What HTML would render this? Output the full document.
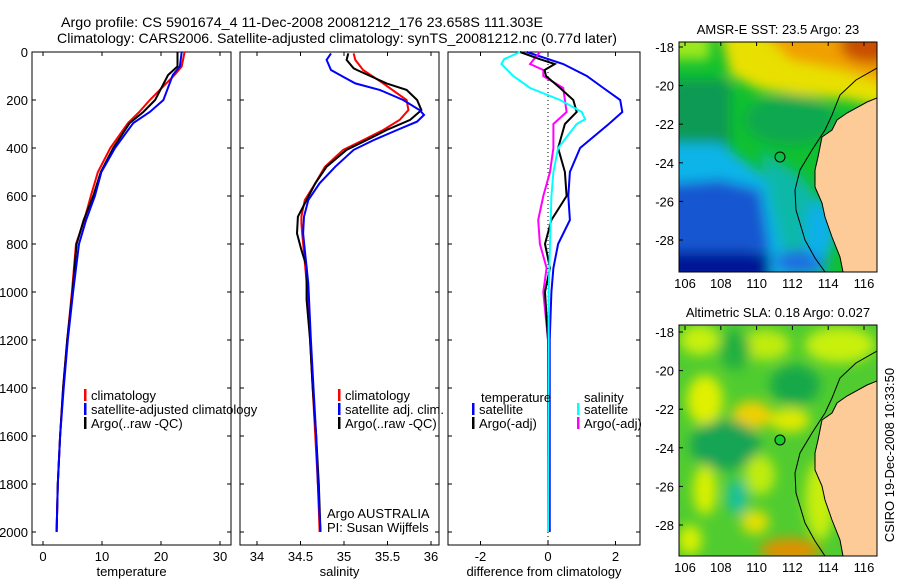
<!DOCTYPE html>
<html><head><meta charset="utf-8">
<style>
html,body{margin:0;padding:0;background:#fff;}
svg{display:block;font-family:"Liberation Sans",sans-serif;}
text{font-size:13px;fill:#000;}
</style></head>
<body>
<svg id="fig" width="900" height="580" viewBox="0 0 900 580" xmlns="http://www.w3.org/2000/svg">
<defs>
<filter id="bl" x="-50%" y="-50%" width="200%" height="200%"><feGaussianBlur stdDeviation="6"/></filter>
<clipPath id="c1"><rect x="679" y="42" width="198" height="230"/></clipPath>
<clipPath id="c2"><rect x="679" y="325" width="198" height="231"/></clipPath>
</defs>
<text x="61" y="27" textLength="482" lengthAdjust="spacingAndGlyphs" style="font-size:14px">Argo profile: CS 5901674_4 11-Dec-2008 20081212_176 23.658S 111.303E</text>
<text x="57" y="43" textLength="560" lengthAdjust="spacingAndGlyphs" style="font-size:14px">Climatology: CARS2006. Satellite-adjusted climatology: synTS_20081212.nc (0.77d later)</text>
<g id="plots"></g>

<!-- SST map -->
<g>
<text x="778" y="34" text-anchor="middle">AMSR-E SST: 23.5 Argo: 23</text>
<g clip-path="url(#c1)">
<rect x="679" y="42" width="198" height="230" fill="#10c030"/>
<g filter="url(#bl)">
<rect x="660" y="30" width="50" height="30" fill="#9be81e"/>
<rect x="670" y="80" width="60" height="70" fill="#109a55"/>
<ellipse cx="790" cy="120" rx="45" ry="25" fill="#0fa850"/>
<polygon points="720,30 890,30 890,110 850,100 800,95 760,90 730,75" fill="#e8e000"/>
<polygon points="760,30 890,30 890,85 840,70 790,60" fill="#f0a000"/>
<ellipse cx="870" cy="45" rx="30" ry="18" fill="#c85000"/>
<polygon points="660,143 720,143 750,165 775,185 790,210 800,280 660,280" fill="#10b4e8"/>
<polygon points="760,150 800,175 820,200 830,280 790,280 770,200" fill="#10b8a8"/>
<polygon points="660,185 720,180 760,190 770,250 660,260" fill="#1456d0"/>
<rect x="660" y="252" width="110" height="30" fill="#041896"/>
<ellipse cx="800" cy="262" rx="25" ry="12" fill="#1e6fe0"/>
<ellipse cx="820" cy="230" rx="15" ry="30" fill="#10b0e8"/>
</g>
<polygon points="877,98 867,102 847,113 837,120 832,130 822,137 818,157 815,170 815,187 822,203 825,217 832,237 840,257 843,272 877,272" fill="#fccb98" stroke="#000" stroke-width="1"/>
<polyline points="877,68 856,80 840,95 832,115 825,130 812,150 800,170 795,190 796,210 805,240 815,258 825,272" fill="none" stroke="#000" stroke-width="1"/>
<circle cx="780" cy="157" r="5" fill="none" stroke="#000" stroke-width="1"/>
</g>
<rect x="679" y="42" width="198" height="230" fill="none" stroke="#000"/>
</g>

<!-- SLA map -->
<g>
<text x="778" y="317" text-anchor="middle">Altimetric SLA: 0.18 Argo: 0.027</text>
<g clip-path="url(#c2)">
<rect x="679" y="325" width="198" height="231" fill="#50cc30"/>
<g filter="url(#bl)">
<ellipse cx="700" cy="340" rx="20" ry="15" fill="#c8f010"/>
<ellipse cx="705" cy="400" rx="18" ry="25" fill="#e0f000"/>
<ellipse cx="752" cy="415" rx="20" ry="14" fill="#f0d000"/>
<ellipse cx="790" cy="420" rx="20" ry="12" fill="#e0ea00"/>
<ellipse cx="765" cy="345" rx="25" ry="15" fill="#c0ec10"/>
<ellipse cx="840" cy="345" rx="35" ry="18" fill="#c8f010"/>
<ellipse cx="795" cy="385" rx="25" ry="20" fill="#18a848"/>
<ellipse cx="735" cy="350" rx="15" ry="20" fill="#20b040"/>
<ellipse cx="725" cy="445" rx="35" ry="25" fill="#19a455"/>
<ellipse cx="737" cy="497" rx="10" ry="18" fill="#14c0a0"/>
<ellipse cx="705" cy="490" rx="12" ry="25" fill="#d8f000"/>
<ellipse cx="760" cy="475" rx="15" ry="20" fill="#c0ec10"/>
<ellipse cx="790" cy="550" rx="30" ry="12" fill="#e09000"/>
<ellipse cx="755" cy="522" rx="14" ry="12" fill="#e6e000"/>
<ellipse cx="820" cy="500" rx="15" ry="40" fill="#c8ee10"/>
<ellipse cx="690" cy="540" rx="12" ry="15" fill="#d8f000"/>
</g>
<polygon points="877,381 867,385 847,396 837,403 832,413 822,420 818,440 815,453 815,470 822,486 825,500 832,520 840,540 843,556 877,556" fill="#fccb98" stroke="#000" stroke-width="1"/>
<polyline points="877,351 856,363 840,378 832,398 825,413 812,433 800,453 795,473 796,493 805,523 815,541 825,556" fill="none" stroke="#000" stroke-width="1"/>
<circle cx="780" cy="440" r="5" fill="#1ccc2c" stroke="#000" stroke-width="1"/>
</g>
<rect x="679" y="325" width="198" height="231" fill="none" stroke="#000"/>
</g>
<text transform="translate(894,455) rotate(-90)" text-anchor="middle">CSIRO 19-Dec-2008 10:33:50</text>
</svg>
<script>
// ---- data ----
const tDepth = [0,60,96,200,250,296,400,500,600,700,800,1000,1200,1400,1600,1800,2000];
const tempClim = [24.0,23.5,22.3,18.1,16.3,14.4,11.4,9.3,8.1,7.0,5.6,4.9,4.1,3.4,2.9,2.5,2.3];
const tempSat  = [23.5,23.2,22.0,20.4,18.1,15.3,12.2,9.9,8.8,7.3,6.1,5.1,4.2,3.5,2.9,2.5,2.3];
const tempArgo = [22.8,22.8,21.2,19.0,17.0,14.7,11.9,9.8,8.5,6.9,5.7,5.0,4.1,3.4,2.9,2.5,2.3];
const sDepthR = [6,33,75,131,200,242,283,325,367,408,478,547,617,686,714,756,1000,1200,1400,1600,1800,2000];
const salClim = [35.11,35.13,35.22,35.45,35.72,35.74,35.64,35.45,35.22,34.99,34.78,34.67,34.55,34.51,34.51,34.52,34.58,34.61,34.64,34.67,34.70,34.72];
const sDepthB = [6,33,75,103,131,158,200,242,262,290,325,367,408,478,547,617,686,756,825,964,1200,1400,1600,1800,2000];
const salSat = [34.85,34.80,34.85,34.99,35.13,35.41,35.68,35.87,35.92,35.84,35.61,35.34,35.11,34.90,34.72,34.59,34.54,34.53,34.55,34.59,34.62,34.65,34.68,34.70,34.73];
const sDepthK = [6,33,68,75,131,158,200,242,283,325,367,408,478,547,617,686,756,825,894,1033,1200,1400,1600,1800,2000];
const salArgo = [35.05,35.03,35.11,35.15,35.49,35.72,35.84,35.89,35.76,35.49,35.26,35.03,34.80,34.67,34.57,34.47,34.46,34.51,34.57,34.57,34.61,34.64,34.68,34.71,34.73];
const dDepthB = [0,50,100,150,200,250,300,400,500,600,700,800,900,1000,1200,2000];
const diffTSat = [-0.63,0.45,1.15,1.64,2.14,2.2,1.8,0.95,0.65,0.6,0.65,0.3,0.16,0.1,0.05,0.05];
const dDepthK = [0,30,50,75,100,150,200,250,300,400,500,600,700,800,900,1000,1200,2000];
const diffTArgo = [-0.83,-0.24,0.2,-0.1,-0.06,0.36,0.75,0.85,0.5,0.3,0.5,0.55,0.1,-0.09,0.06,-0.09,0.0,0.0];
const dDepthC = [0,30,50,100,150,200,250,280,300,400,500,600,800,1000,2000];
const diffSSat = [-0.83,-1.3,-1.38,-1.03,-0.53,0.36,1.0,1.1,0.85,0.3,0.16,0.1,0.06,0.02,0];
const dDepthM = [0,50,75,100,150,200,250,300,400,500,600,700,800,900,1000,1200,2000];
const diffSArgo = [-0.24,-0.53,-0.14,-0.14,0.45,0.5,0.55,0.16,0.16,0.06,-0.14,-0.29,-0.24,-0.04,-0.14,0,0];
const depthTicks = [0,200,400,600,800,1000,1200,1400,1600,1800,2000];
const tempTicks = [0,10,20,30];
const salTicks = [34,34.5,35,35.5,36];
const salTickLabels = ['34','34.5','35','35.5','36'];
const diffTicks = [-2,0,2];
const lonTicks = [106,108,110,112,114,116];
const latTicks = [-18,-20,-22,-24,-26,-28];

const NS='http://www.w3.org/2000/svg';
const root=document.getElementById('plots');
function mk(tag,attrs,parent){const e=document.createElementNS(NS,tag);for(const k in attrs)e.setAttribute(k,attrs[k]);(parent||root).appendChild(e);return e;}
const TOP=52,BOT=545;
const yD=d=>52+d*0.24;

function panel(name,x0,x1,xs,ticks,labels,xlabel,showY){
  const g=mk('g',{});
  
  
  mk('rect',{x:x0,y:TOP,width:x1-x0,height:BOT-TOP,fill:'none',stroke:'#000'},g);
  ticks.forEach((t,i)=>{const x=xs(t);
    mk('line',{x1:x,x2:x,y1:BOT,y2:BOT-4,stroke:'#000'},g);
    mk('line',{x1:x,x2:x,y1:TOP,y2:TOP+4,stroke:'#000'},g);
    const tx=mk('text',{x:x,y:BOT+16,'text-anchor':'middle'},g);tx.textContent=labels[i];
    
    
  });
  depthTicks.forEach(d=>{const y=yD(d);
    mk('line',{x1:x0,x2:x0+4,y1:y,y2:y,stroke:'#000'},g);
    mk('line',{x1:x1,x2:x1-4,y1:y,y2:y,stroke:'#000'},g);
    if(showY){const tx=mk('text',{x:x0-4,y:y+5,'text-anchor':'end'},g);tx.textContent=d;
      
      }
  });
  const xl=mk('text',{x:(x0+x1)/2,y:BOT+31,'text-anchor':'middle'},g);xl.textContent=xlabel;
  
  
  return g;
}
function line(g,name,xs,depths,vals,color){
  const pts=vals.map((v,i)=>xs(v).toFixed(1)+','+yD(depths[i]).toFixed(1)).join(' ');
  const p=mk('polyline',{points:pts,fill:'none',stroke:color,'stroke-width':2},g);
  
  
}
function legend(g,x,y,color,label){
  mk('rect',{x:x,y:y-9,width:2.5,height:12,fill:color},g);
  const t=mk('text',{x:x+7,y:y+2},g);t.textContent=label;
  
  
}
// temperature
const xT=v=>43+v*5.9;
const g1=panel('temperature-panel',32,231,xT,tempTicks,tempTicks,'temperature',true);
line(g1,'temp-climatology',xT,tDepth,tempClim,'#f00');
line(g1,'temp-argo',xT,tDepth,tempArgo,'#000');
line(g1,'temp-satellite',xT,tDepth,tempSat,'#00f');
legend(g1,84,398,'#f00','climatology');
legend(g1,84,412,'#00f','satellite-adjusted climatology');
legend(g1,84,426,'#000','Argo(..raw -QC)');
// salinity
const xS=v=>257+(v-34)*87;
const g2=panel('salinity-panel',240,439,xS,salTicks,salTickLabels,'salinity',false);
line(g2,'sal-climatology',xS,sDepthR,salClim,'#f00');
line(g2,'sal-argo',xS,sDepthK,salArgo,'#000');
line(g2,'sal-satellite',xS,sDepthB,salSat,'#00f');
legend(g2,338,398,'#f00','climatology');
legend(g2,338,412,'#00f','satellite adj. clim.');
legend(g2,338,426,'#000','Argo(..raw -QC)');
let a=mk('text',{x:327,y:518},g2);a.textContent='Argo AUSTRALIA';
a=mk('text',{x:327,y:532},g2);a.textContent='PI: Susan Wijffels';
// difference
const xDf=v=>548+v*33.75;
const g3=panel('difference-panel',448,640,xDf,diffTicks,diffTicks,'difference from climatology',false);
mk('line',{x1:548,x2:548,y1:TOP,y2:BOT,stroke:'#000','stroke-dasharray':'1,3'},g3);
line(g3,'diff-temp-satellite',xDf,dDepthB,diffTSat,'#00f');
line(g3,'diff-sal-argo',xDf,dDepthM,diffSArgo,'#f0f');
line(g3,'diff-temp-argo',xDf,dDepthK,diffTArgo,'#000');
line(g3,'diff-sal-satellite',xDf,dDepthC,diffSSat,'#0ff');
let t3=mk('text',{x:481,y:402},g3);t3.textContent='temperature';
t3=mk('text',{x:584,y:402},g3);t3.textContent='salinity';
legend(g3,472,412,'#00f','satellite');
legend(g3,472,426,'#000','Argo(-adj)');
legend(g3,577,412,'#0ff','satellite');
legend(g3,577,426,'#f0f','Argo(-adj)');
// map axes
const svg=document.getElementById('fig');
function mapAxes(top,lat0y){
  const g=mk('g',{},svg);
  
  
  lonTicks.forEach(l=>{const x=685+(l-106)*17.9;
    mk('line',{x1:x,x2:x,y1:top,y2:top+4,stroke:'#000'},g);
    const t=mk('text',{x:x,y:top+230+16,'text-anchor':'middle'},g);t.textContent=l;});
  latTicks.forEach(l=>{const y=lat0y+(-18-l)*19.3;
    mk('line',{x1:679,x2:683,y1:y,y2:y,stroke:'#000'},g);
    const t=mk('text',{x:674,y:y+5,'text-anchor':'end'},g);t.textContent=l;});
}
mapAxes(42,47);
mapAxes(326,332);
</script>
</body></html>
